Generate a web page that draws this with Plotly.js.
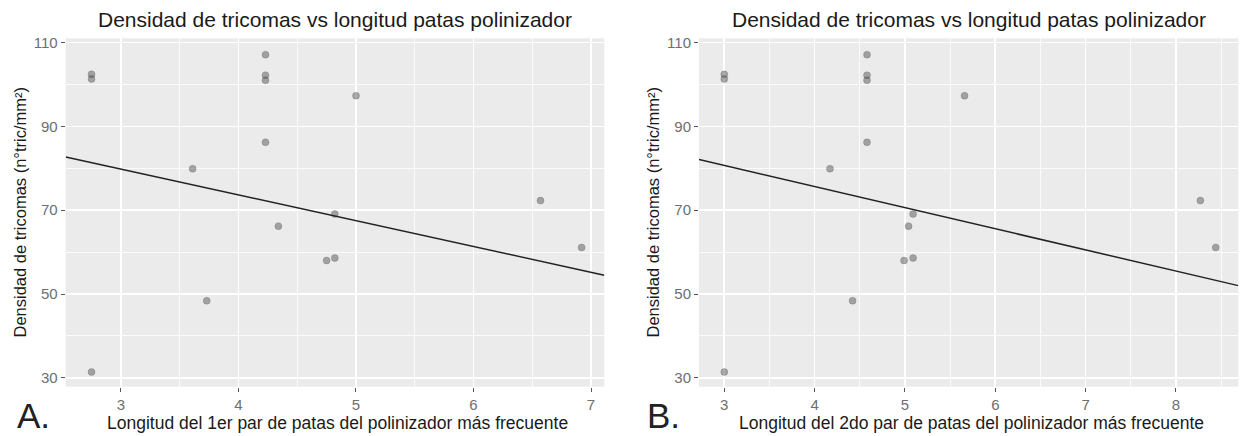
<!DOCTYPE html>
<html>
<head>
<meta charset="utf-8">
<script src="https://cdn.plot.ly/plotly-3.0.1.min.js"></script>
<style>
  html, body { margin: 0; padding: 0; background: #ffffff; }
  #chart { width: 1243px; height: 436px; }
</style>
</head>
<body>
<div id="chart"></div>
<script>
// ---- Data ----
const densidadTricomas = [102.4, 101.3, 31.4, 79.9, 48.4, 107.1, 102.2, 101.0, 86.2, 66.2, 58.0, 58.6, 69.1, 97.3, 72.3, 61.1];
const longitudPar1 = [2.75, 2.75, 2.75, 3.61, 3.73, 4.23, 4.23, 4.23, 4.23, 4.34, 4.75, 4.82, 4.82, 5.00, 6.57, 6.92];
const longitudPar2 = [3.00, 3.00, 3.00, 4.17, 4.42, 4.58, 4.58, 4.58, 4.58, 5.04, 4.99, 5.09, 5.09, 5.66, 8.27, 8.44];
// fitted line coefficients [intercept, slope]
const ajustePar1 = [98.24, -6.15];
const ajustePar2 = [95.81, -5.04];

const tituloGrafico = "Densidad de tricomas vs longitud patas polinizador";
const tituloY = "Densidad de tricomas (n°tric/mm²)";
const tituloX1 = "Longitud del 1er par de patas del polinizador más frecuente";
const tituloX2 = "Longitud del 2do par de patas del polinizador más frecuente";
const etiquetasPanel = ["A.", "B."];
const yTicks = [30, 50, 70, 90, 110];

// ---- Layout geometry ----
const W = 1243, H = 436;
const rangeX1 = [2.53, 7.113];
const rangeX2 = [2.72, 8.69];
const rangeY = [27.9, 111.0];
const domX1 = [65.7 / W, 604.3 / W];
const domX2 = [699 / W, 1238.3 / W];
const domY = [1 - 386.7 / H, 1 - 38.3 / H];

function fitLine(range, coef) {
  return { x: range.slice(), y: range.map(v => coef[0] + coef[1] * v) };
}

const markerStyle = { size: 7, color: 'rgba(60,60,60,0.42)', line: { width: 0.6, color: 'rgba(60,60,60,0.35)' } };
const lineStyle = { color: '#222222', width: 1.5 };

const l1 = fitLine(rangeX1, ajustePar1);
const l2 = fitLine(rangeX2, ajustePar2);

const traces = [
  { type: 'scatter', mode: 'markers', x: longitudPar1, y: densidadTricomas, xaxis: 'x', yaxis: 'y', marker: markerStyle, hoverinfo: 'x+y' },
  { type: 'scatter', mode: 'lines', x: l1.x, y: l1.y, xaxis: 'x', yaxis: 'y', line: lineStyle, hoverinfo: 'skip' },
  { type: 'scatter', mode: 'markers', x: longitudPar2, y: densidadTricomas, xaxis: 'x2', yaxis: 'y2', marker: markerStyle, hoverinfo: 'x+y' },
  { type: 'scatter', mode: 'lines', x: l2.x, y: l2.y, xaxis: 'x2', yaxis: 'y2', line: lineStyle, hoverinfo: 'skip' }
];

const tickFont = { family: 'Liberation Sans, Arial, sans-serif', size: 15, color: '#6e6e6e' };

function xAxis(dom, range, anchor) {
  return {
    domain: dom, range: range, anchor: anchor,
    dtick: 1, tick0: 0,
    showgrid: true, gridcolor: '#ffffff', gridwidth: 1.6,
    minor: { dtick: 0.5, tick0: 0, showgrid: true, gridcolor: '#ffffff', gridwidth: 0.8, ticks: '' },
    zeroline: false, showline: false,
    ticks: 'outside', ticklen: 4, tickwidth: 1, tickcolor: '#555555',
    tickfont: tickFont, fixedrange: true
  };
}
function yAxis(dom, range, anchor) {
  return {
    domain: dom, range: range, anchor: anchor,
    tickvals: yTicks,
    showgrid: true, gridcolor: '#ffffff', gridwidth: 1.6,
    minor: { dtick: 10, tick0: 0, showgrid: true, gridcolor: '#ffffff', gridwidth: 0.8, ticks: '' },
    zeroline: false, showline: false,
    ticks: 'outside', ticklen: 4, tickwidth: 1, tickcolor: '#555555',
    tickfont: tickFont, fixedrange: true
  };
}

const txtFont = { family: 'Liberation Sans, Arial, sans-serif', color: '#1a1a1a' };
function ann(text, px, py, size, extra) {
  return Object.assign({
    text: text, xref: 'paper', yref: 'paper', x: px / W, y: 1 - py / H,
    xanchor: 'center', yanchor: 'middle', showarrow: false,
    font: Object.assign({}, txtFont, { size: size })
  }, extra || {});
}

const c1 = (65.7 + 604.3) / 2, c2 = (699 + 1238.3) / 2, cy = (38.3 + 386.7) / 2;
const labelFont = { family: 'Liberation Sans, Arial, sans-serif', size: 35, color: '#222222' };

const layout = {
  width: W, height: H,
  margin: { l: 0, r: 0, t: 0, b: 0, pad: 0 },
  paper_bgcolor: '#ffffff',
  plot_bgcolor: '#ebebeb',
  showlegend: false,
  xaxis: xAxis(domX1, rangeX1, 'y'),
  yaxis: yAxis(domY, rangeY, 'x'),
  xaxis2: xAxis(domX2, rangeX2, 'y2'),
  yaxis2: yAxis(domY, rangeY, 'x2'),
  annotations: [
    ann(tituloGrafico, c1, 19, 21),
    ann(tituloGrafico, c2, 19, 21),
    ann(tituloY, 20, cy, 16.5, { textangle: -90 }),
    ann(tituloY, 653, cy, 16.5, { textangle: -90 }),
    ann(tituloX1, c1 + 2, 423, 17.5),
    ann(tituloX2, c2 + 3, 423, 17.5),
    ann(etiquetasPanel[0], 33, 415, 35, { font: labelFont }),
    ann(etiquetasPanel[1], 663, 415, 35, { font: labelFont })
  ]
};

Plotly.newPlot('chart', traces, layout, { displayModeBar: false, staticPlot: true });
</script>
</body>
</html>
